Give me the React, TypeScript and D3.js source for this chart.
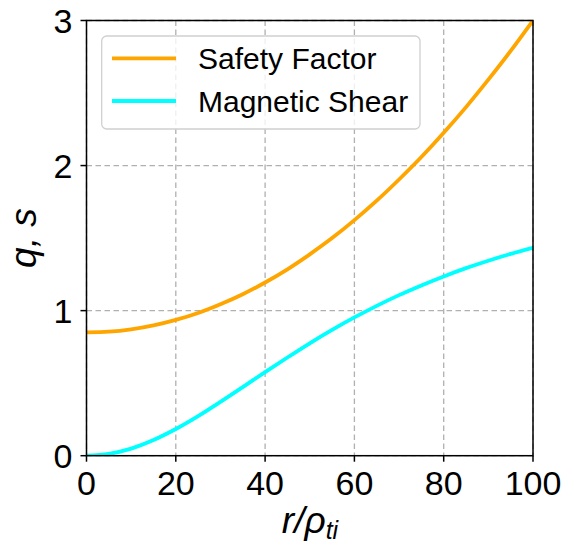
import React from "react";
import * as d3 from "d3";

// Normalised radius r/ρ_ti
const radius = [0, 5, 10, 15, 20, 25, 30, 35, 40, 45, 50, 55, 60, 65, 70, 75, 80, 85, 90, 95, 100];
// Safety factor q(r)
const safetyFactor = [0.85, 0.855, 0.871, 0.898, 0.936, 0.984, 1.044, 1.113, 1.194, 1.285, 1.388, 1.5, 1.624, 1.758, 1.904, 2.059, 2.226, 2.403, 2.592, 2.79, 3.0];
// Magnetic shear s(r)
const magneticShear = [0, 0.013, 0.049, 0.108, 0.184, 0.273, 0.371, 0.473, 0.576, 0.677, 0.775, 0.867, 0.953, 1.033, 1.107, 1.174, 1.236, 1.293, 1.344, 1.391, 1.433];

const xTicks = [0, 20, 40, 60, 80, 100];
const yTicks = [0, 1, 2, 3];

const seriesNames = ["Safety Factor", "Magnetic Shear"];
const seriesColors = ["#FFA500", "#00FFFF"];

const W = 564;
const H = 547;
const left = 86.5;
const right = 533;
const top = 20.5;
const bottom = 455.7;

export default function App() {
  const x = d3.scaleLinear().domain([0, 100]).range([left, right]);
  const y = d3.scaleLinear().domain([0, 3]).range([bottom, top]);

  const line = (vals: number[]) =>
    d3
      .line<number>()
      .x((_, i) => x(radius[i]))
      .y((d) => y(d))
      .curve(d3.curveMonotoneX)(vals) as string;

  const series = [safetyFactor, magneticShear];
  const font = "'Liberation Sans', Arial, sans-serif";

  return (
    <svg
      width={W}
      height={H}
      style={{ position: "absolute", left: 0, top: 0 }}
      fontFamily={font}
    >
      <rect x={0} y={0} width={W} height={H} fill="#fff" />
      <defs>
        <clipPath id="plot-clip">
          <rect x={left} y={top} width={right - left} height={bottom - top} />
        </clipPath>
      </defs>

      {/* grid */}
      <g stroke="#b0b0b0" strokeWidth={1.3} strokeDasharray="5.5,3.5">
        {xTicks.map((t) => (
          <line key={"gx" + t} x1={x(t)} x2={x(t)} y1={top} y2={bottom} />
        ))}
        {yTicks.map((t) => (
          <line key={"gy" + t} x1={left} x2={right} y1={y(t)} y2={y(t)} />
        ))}
      </g>

      {/* curves */}
      <g clipPath="url(#plot-clip)">
        {series.map((vals, i) => (
          <path
            key={seriesNames[i]}
            d={line(vals)}
            fill="none"
            stroke={seriesColors[i]}
            strokeWidth={3.8}
            strokeLinecap="square"
          />
        ))}
      </g>

      {/* frame */}
      <rect
        x={left}
        y={top}
        width={right - left}
        height={bottom - top}
        fill="none"
        stroke="#000"
        strokeWidth={1.5}
      />

      {/* x ticks */}
      <g>
        {xTicks.map((t) => (
          <g key={"xt" + t}>
            <line x1={x(t)} x2={x(t)} y1={bottom} y2={bottom + 6} stroke="#000" strokeWidth={1.5} />
            <text x={x(t)} y={494.6} textAnchor="middle" fontSize={34} fill="#000">
              {t}
            </text>
          </g>
        ))}
      </g>

      {/* y ticks */}
      <g>
        {yTicks.map((t) => (
          <g key={"yt" + t}>
            <line x1={left - 6} x2={left} y1={y(t)} y2={y(t)} stroke="#000" strokeWidth={1.5} />
            <text
              x={left - 14}
              y={y(t)}
              dy="0.36em"
              textAnchor="end"
              fontSize={34}
              fill="#000"
            >
              {t}
            </text>
          </g>
        ))}
      </g>

      {/* axis labels */}
      <text x={310} y={533} textAnchor="middle" fontSize={37} fontStyle="italic" fill="#000">
        r/ρ
        <tspan fontSize={25} dy={6}>
          ti
        </tspan>
      </text>
      <text
        transform={`translate(35.5, ${(top + bottom) / 2}) rotate(-90)`}
        textAnchor="middle"
        fontSize={37}
        fontStyle="italic"
        fill="#000"
      >
        q, s
      </text>

      {/* legend */}
      <g>
        <rect
          x={101.7}
          y={36}
          width={318.3}
          height={93}
          rx={5}
          fill="#fff"
          fillOpacity={0.8}
          stroke="#d0d0d0"
          strokeWidth={1.3}
        />
        {seriesNames.map((name, i) => (
          <g key={"lg" + name}>
            <line
              x1={112}
              x2={176}
              y1={58.3 + i * 42.7}
              y2={58.3 + i * 42.7}
              stroke={seriesColors[i]}
              strokeWidth={3.8}
            />
            <text x={198} y={58.3 + i * 42.7} dy="0.36em" fontSize={30} fill="#000">
              {name}
            </text>
          </g>
        ))}
      </g>
    </svg>
  );
}
